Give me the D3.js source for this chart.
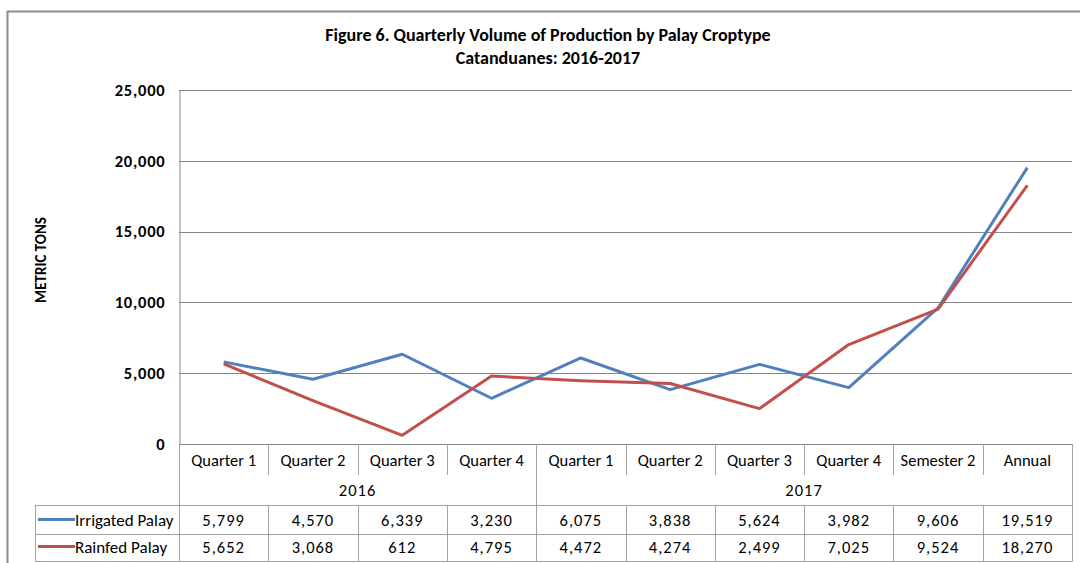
<!DOCTYPE html>
<html>
<head>
<meta charset="utf-8">
<script src="https://cdn.jsdelivr.net/npm/d3@7/dist/d3.min.js"></script>
<style>
  html, body { margin: 0; padding: 0; background: #fff; }
  svg { display: block; }
  text { font-family: Carlito, Lato, "Open Sans", sans-serif; fill: #000; }
</style>
</head>
<body>
<svg id="chart" width="1080" height="563"></svg>
<script>
const titleLines = ["Figure 6. Quarterly  Volume of Production by Palay Croptype", "Catanduanes: 2016-2017"];
const yAxisLabel = "METRIC TONS";
const categories = ["Quarter 1", "Quarter 2", "Quarter 3", "Quarter 4", "Quarter 1", "Quarter 2", "Quarter 3", "Quarter 4", "Semester 2", "Annual"];
const groups = [{ label: "2016", start: 0, end: 4 }, { label: "2017", start: 4, end: 10 }];
const irrigated = [5799, 4570, 6339, 3230, 6075, 3838, 5624, 3982, 9606, 19519];
const rainfed = [5652, 3068, 612, 4795, 4472, 4274, 2499, 7025, 9524, 18270];
const yTicks = [0, 5000, 10000, 15000, 20000, 25000];
const seriesNames = ["Irrigated Palay", "Rainfed Palay"];
const seriesColors = ["#4F81BD", "#C0504D"];

(function () {
const svg = d3.select("#chart");
const pLeft = 179, pRight = 1072, pTop = 90, pBottom = 444;
const tableLeft = 35;
const catRowBottom = 475, yearRowBottom = 505, row1Bottom = 534, row2Bottom = 561;
const gridColor = "#878787", tableColor = "#a3a3a3";
const labelSize = 16.5, numSpacing = "1px";

// outer border
svg.append("path")
  .attr("d", "M7.5,563 L7.5,11.5 L1080,11.5")
  .attr("fill", "none").attr("stroke", "#8c8c8c").attr("stroke-width", 2);

// title
svg.append("text").attr("x", 548).attr("y", 41).attr("text-anchor", "middle")
  .attr("font-size", 18).attr("font-weight", "bold").text(titleLines[0]);
svg.append("text").attr("x", 548).attr("y", 64).attr("text-anchor", "middle")
  .attr("font-size", 18).attr("font-weight", "bold").text(titleLines[1]);

const x = d3.scaleBand().domain(d3.range(categories.length)).range([pLeft, pRight]).padding(0);
const y = d3.scaleLinear().domain([0, 25000]).range([pBottom, pTop]);

// gridlines
svg.append("g").selectAll("line").data(yTicks).join("line")
  .attr("x1", pLeft).attr("x2", pRight)
  .attr("y1", d => Math.round(y(d)) + 0.5).attr("y2", d => Math.round(y(d)) + 0.5)
  .attr("stroke", gridColor).attr("stroke-width", 1);

// y axis via d3
const yAxis = d3.axisLeft(y).tickValues(yTicks).tickFormat(d3.format(",")).tickSize(0).tickPadding(14);
const gy = svg.append("g").attr("transform", `translate(${pLeft + 0.5},0)`).call(yAxis);
gy.select(".domain").attr("stroke", gridColor);
gy.selectAll("text").attr("font-size", 16.5).attr("font-weight", "bold").attr("letter-spacing", "0.8px")
  .attr("font-family", "Carlito, Lato, 'Open Sans', sans-serif").attr("fill", "#000");

// y label
svg.append("text").attr("transform", "translate(46,260) rotate(-90)").attr("text-anchor", "middle")
  .attr("font-size", 15).attr("font-weight", "bold").text(yAxisLabel);

// table lines
const tg = svg.append("g").attr("stroke", tableColor).attr("stroke-width", 1).attr("fill", "none");
tg.append("line").attr("x1", pLeft + 0.5).attr("x2", pLeft + 0.5).attr("y1", pBottom).attr("y2", row2Bottom + 0.5);
tg.append("line").attr("x1", pRight + 0.5).attr("x2", pRight + 0.5).attr("y1", pBottom).attr("y2", row2Bottom + 0.5);
d3.range(1, categories.length).forEach(i => {
  const xx = Math.round(x(i)) + 0.5;
  const isGroupEdge = groups.some(g => g.start === i);
  tg.append("line").attr("x1", xx).attr("x2", xx).attr("y1", pBottom)
    .attr("y2", isGroupEdge ? row2Bottom : catRowBottom);
  tg.append("line").attr("x1", xx).attr("x2", xx).attr("y1", yearRowBottom).attr("y2", row2Bottom);
});
[yearRowBottom, row1Bottom, row2Bottom].forEach(yy => {
  tg.append("line").attr("x1", tableLeft).attr("x2", pRight + 0.5).attr("y1", yy + 0.5).attr("y2", yy + 0.5);
});
tg.append("line").attr("x1", tableLeft + 0.5).attr("x2", tableLeft + 0.5).attr("y1", yearRowBottom).attr("y2", row2Bottom + 0.5);

// category labels
svg.append("g").selectAll("text").data(categories).join("text")
  .attr("x", (d, i) => x(i) + x.bandwidth() / 2).attr("y", 466)
  .attr("text-anchor", "middle").attr("font-size", labelSize).text(d => d);
// group labels
svg.append("g").selectAll("text").data(groups).join("text")
  .attr("x", d => (x(d.start) + (d.end < categories.length ? x(d.end) : pRight)) / 2).attr("y", 496)
  .attr("text-anchor", "middle").attr("font-size", labelSize).attr("letter-spacing", numSpacing).text(d => d.label);

// data rows
const seriesData = [irrigated, rainfed];
const rowY = [526, 553];
seriesData.forEach((vals, s) => {
  svg.append("g").selectAll("text").data(vals).join("text")
    .attr("x", (d, i) => x(i) + x.bandwidth() / 2).attr("y", rowY[s])
    .attr("text-anchor", "middle").attr("font-size", labelSize).attr("letter-spacing", numSpacing)
    .text(d => d3.format(",")(d));
  svg.append("line").attr("x1", 38).attr("x2", 75).attr("y1", rowY[s] - 6.5).attr("y2", rowY[s] - 6.5)
    .attr("stroke", seriesColors[s]).attr("stroke-width", 3);
  svg.append("text").attr("x", 75).attr("y", rowY[s]).attr("font-size", 17).text(seriesNames[s]);
});

// lines
const line = d3.line().x((d, i) => x(i) + x.bandwidth() / 2).y(d => y(d));
seriesData.forEach((vals, s) => {
  svg.append("path").datum(vals).attr("d", line).attr("fill", "none")
    .attr("stroke", seriesColors[s]).attr("stroke-width", 3).attr("stroke-linejoin", "round");
});
})();
</script>
</body>
</html>
